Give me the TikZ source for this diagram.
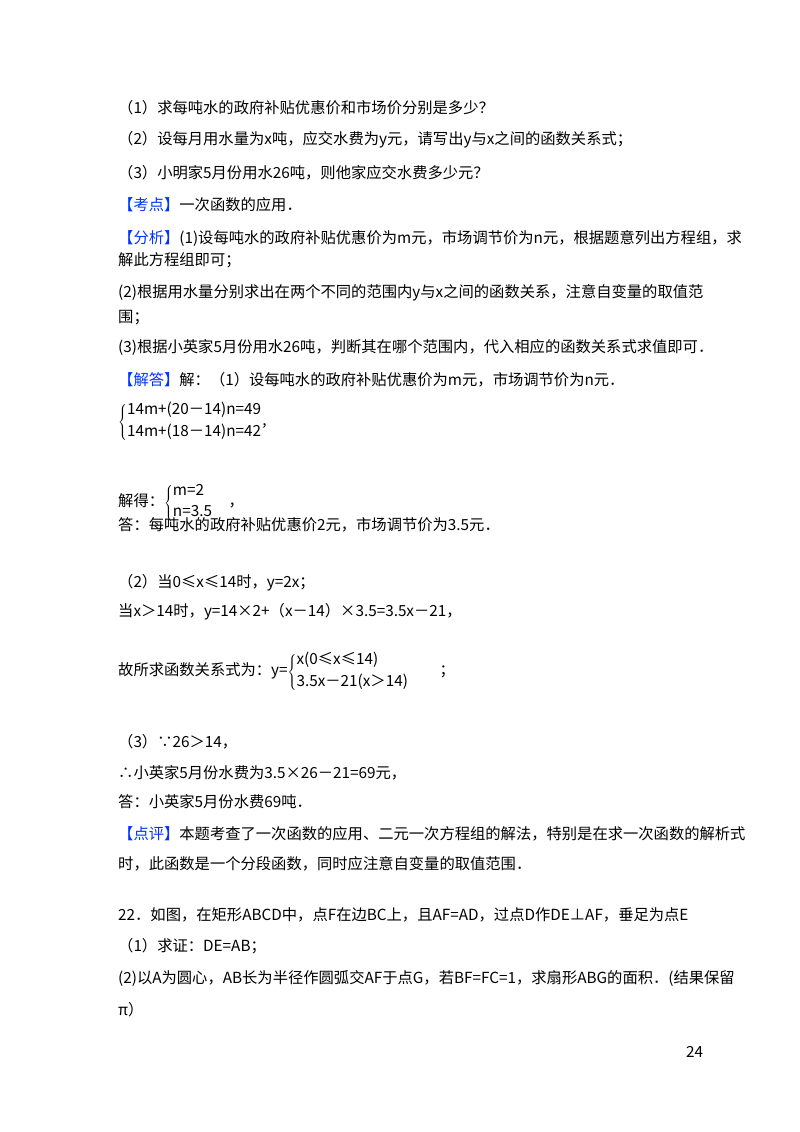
\documentclass[tikz,border=0pt]{standalone}
\usepackage{fontspec}
\setmainfont{Noto Sans CJK SC}
\begin{document}
\begin{tikzpicture}[x=1pt,y=-1pt,
  t/.style={anchor=west,inner sep=0,font=\fontsize{15.3}{17}\selectfont}]
\useasboundingbox (0,0) rectangle (800,1132);
\node[t] (l1) at (118,108) {（1）求每吨水的政府补贴优惠价和市场价分别是多少？};
\node[t] (l2) at (118,140) {（2）设每月用水量为x吨，应交水费为y元，请写出y与x之间的函数关系式；};
\node[t] (l3) at (118,173) {（3）小明家5月份用水26吨，则他家应交水费多少元？};
\node[t] (l4) at (118,205) {\textcolor{blue!80!cyan}{【考点】}一次函数的应用．};
\node[t] (l5) at (118,238) {\textcolor{blue!80!cyan}{【分析】}(1)设每吨水的政府补贴优惠价为m元，市场调节价为n元，根据题意列出方程组，求};
\node[t] (l6) at (118,260) {解此方程组即可；};
\node[t] (l7) at (118,293) {(2)根据用水量分别求出在两个不同的范围内y与x之间的函数关系，注意自变量的取值范};
\node[t] (l8) at (118,318) {围；};
\node[t] (l9) at (118,348) {(3)根据小英家5月份用水26吨，判断其在哪个范围内，代入相应的函数关系式求值即可．};
\node[t] (l10) at (118,380) {\textcolor{blue!80!cyan}{【解答】}解：（1）设每吨水的政府补贴优惠价为m元，市场调节价为n元．};
\node[t] (eq1) at (118,422) {$\left\{\begin{array}{@{}l@{}}\mbox{14m+(20－14)n=49}\\[4pt]\mbox{14m+(18－14)n=42}\end{array}\right.$,};
\node[t] (l11) at (118,503) {解得：$\left\{\begin{array}{@{}l@{}}\mbox{m=2}\\[4pt]\mbox{n=3.5}\end{array}\right.$\quad ，};
\node[t] (l12) at (118,525) {答：每吨水的政府补贴优惠价2元，市场调节价为3.5元．};
\node[t] (l13) at (118,583) {（2）当0≤x≤14时，y=2x；};
\node[t] (l14) at (118,612) {当x＞14时，y=14×2+（x－14）×3.5=3.5x－21，};
\node[t] (l15) at (118,672) {故所求函数关系式为：y=$\left\{\begin{array}{@{}l@{}}\mbox{x(0≤x≤14)}\\[4pt]\mbox{3.5x－21(x＞14)}\end{array}\right.$\qquad ；};
\node[t] (l16) at (118,742) {（3）∵26＞14，};
\node[t] (l17) at (118,773) {∴小英家5月份水费为3.5×26－21=69元，};
\node[t] (l18) at (118,802) {答：小英家5月份水费69吨．};
\node[t] (l19) at (118,834) {\textcolor{blue!80!cyan}{【点评】}本题考查了一次函数的应用、二元一次方程组的解法，特别是在求一次函数的解析式};
\node[t] (l20) at (118,864) {时，此函数是一个分段函数，同时应注意自变量的取值范围．};
\node[t] (l21) at (118,915) {22．如图，在矩形ABCD中，点F在边BC上，且AF=AD，过点D作DE⊥AF，垂足为点E};
\node[t] (l22) at (118,946) {（1）求证：DE=AB；};
\node[t] (l23) at (118,978) {(2)以A为圆心，AB长为半径作圆弧交AF于点G，若BF=FC=1，求扇形ABG的面积．(结果保留};
\node[t] (l24) at (118,1010) {π）};
\node[t] (pg) at (686,1052) {24};
\end{tikzpicture}
\end{document}
